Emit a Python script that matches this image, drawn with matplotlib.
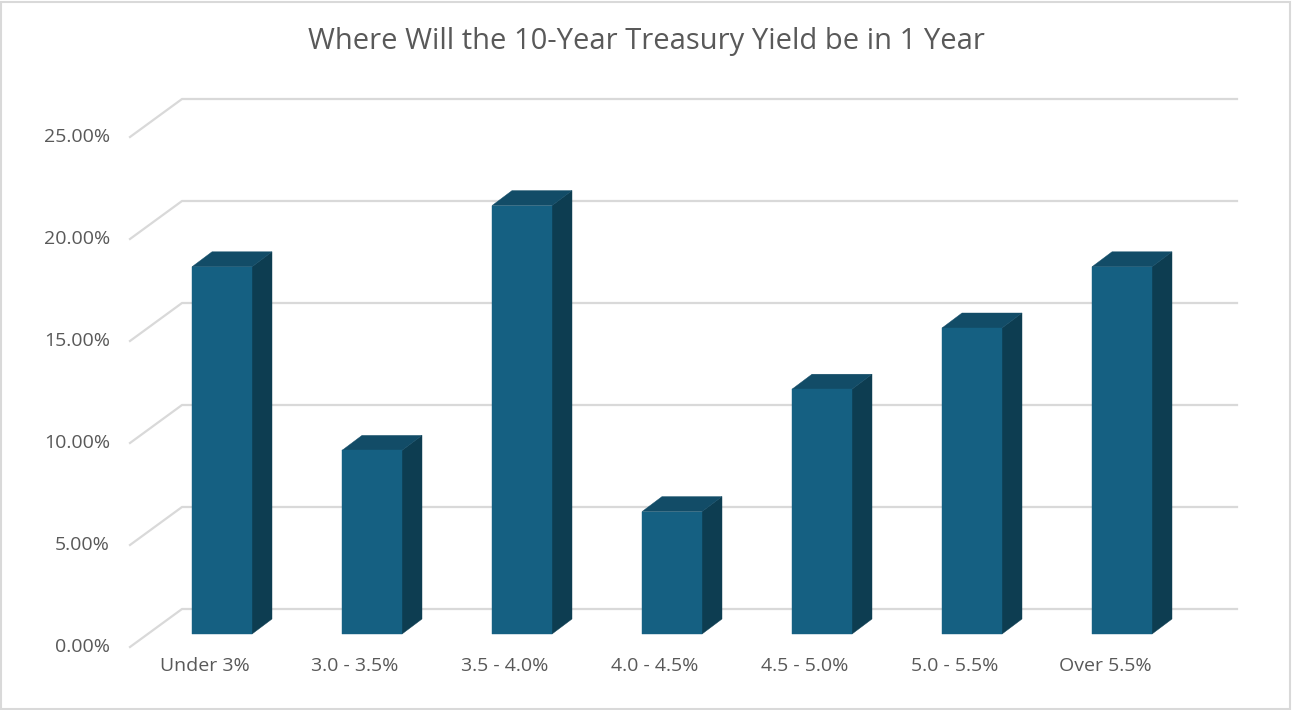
import matplotlib
matplotlib.use('agg')
import matplotlib.pyplot as plt
from matplotlib.patches import Polygon, Rectangle
import numpy as np

# data
categories = ['Under 3%', '3.0 - 3.5%', '3.5 - 4.0%', '4.0 - 4.5%',
              '4.5 - 5.0%', '5.0 - 5.5%', 'Over 5.5%']
shares = [18, 9, 21, 6, 12, 15, 18]
ticks = [0, 5, 10, 15, 20, 25]

front_col = '#156082'
top_col = '#124c67'
side_col = '#0d3d51'
grid_col = '#d9d9d9'
text_col = '#595959'

plt.rcParams['font.family'] = ['Open Sans', 'DejaVu Sans']

W, H = 1292, 710
fig = plt.figure(figsize=(W / 100, H / 100), dpi=100)
# the front plane of the 3d box (where the axis labels sit)
ax = fig.add_axes([130 / W, 63 / H, 1050 / W, 510 / H])
ax.set_xlim(-0.5, len(categories) - 0.5)
ax.set_ylim(0, 25)
ax.axis('off')

# pixels -> data units
px_x = (len(categories)) / 1050.0
px_y = 25 / 510.0

def shift(x, y, dx, dy):
    return (x + dx * px_x, y + dy * px_y)

wall = (52, 38)     # back wall offset in px
face = (17, 13)     # bar front offset in px
depth = (20, 15)    # bar depth in px
half = 0.2

# gridlines: diagonal on the floor/side + line on back wall
x0, x1 = -0.5, len(categories) - 0.5
for t in ticks:
    bx0, by0 = shift(x0, t, *wall)
    bx1, by1 = shift(x1, t, *wall)
    ax.plot([x0, bx0, bx1 + 5 * px_x], [t, by0, by1], color=grid_col, lw=1.6,
            clip_on=False, zorder=1, solid_joinstyle='miter')
    ax.text(x0 - 20 * px_x, t, f'{t:.2f}%', ha='right', va='center',
            fontsize=14, color=text_col)

for i, v in enumerate(shares):
    l, r = i - half, i + half
    fl = shift(l, 0, *face)
    fr = shift(r, 0, *face)
    flt = shift(l, v, *face)
    frt = shift(r, v, *face)
    dx, dy = depth
    # side face
    ax.add_patch(Polygon([fr, frt, shift(*frt, dx, dy), shift(*fr, dx, dy)],
                         closed=True, fc=side_col, ec=side_col, lw=0.3,
                         zorder=3))
    # top face
    ax.add_patch(Polygon([flt, frt, shift(*frt, dx, dy), shift(*flt, dx, dy)],
                         closed=True, fc=top_col, ec=top_col, lw=0.3,
                         zorder=3))
    # front face
    ax.add_patch(Rectangle(fl, fr[0] - fl[0], v, fc=front_col, ec=front_col,
                           lw=0.3, zorder=4))
    ax.text(i, -19 * px_y, categories[i], ha='center', va='center',
            fontsize=14, color=text_col)

fig.text(0.5, 1 - 42 / H, 'Where Will the 10-Year Treasury Yield be in 1 Year',
         ha='center', va='center', fontsize=21, color=text_col)

# chart border
fig.add_artist(Rectangle((1 / W, 1 / H), 1 - 3 / W, 1 - 3 / H,
                         transform=fig.transFigure, fill=False,
                         ec='#d9d9d9', lw=1.5))

fig.savefig('out.png', dpi=100)
